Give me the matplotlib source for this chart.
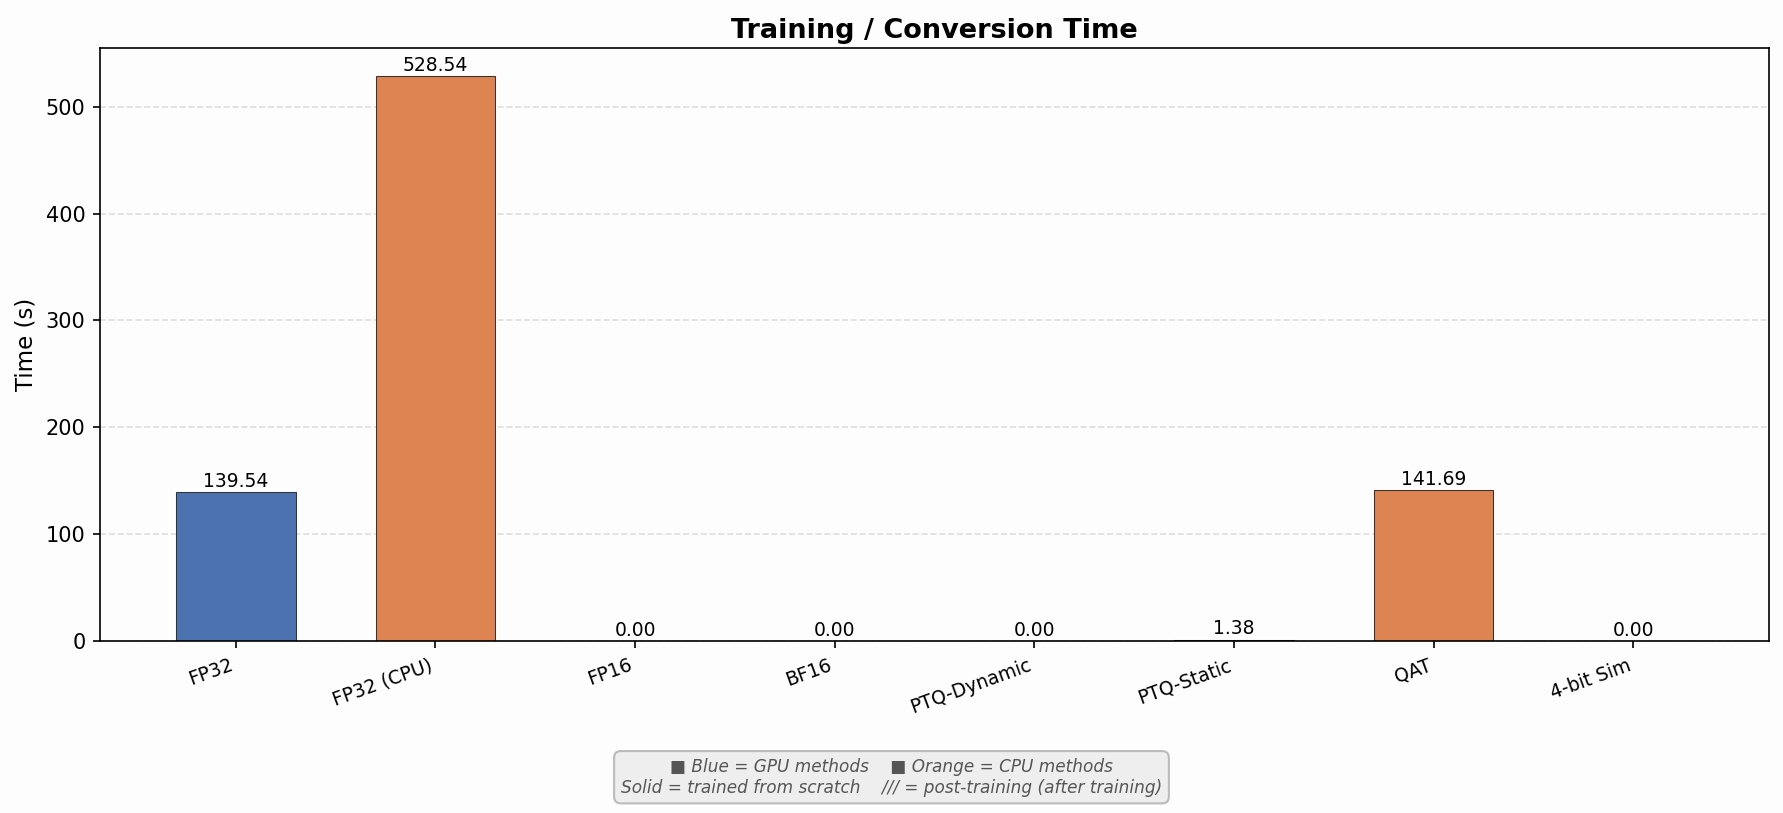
import numpy as np
import matplotlib
matplotlib.use("Agg")
import matplotlib.pyplot as plt

methods = ["FP32", "FP32 (CPU)", "FP16", "BF16", "PTQ-Dynamic", "PTQ-Static", "QAT", "4-bit Sim"]
times = [139.54, 528.54, 0.00, 0.00, 0.00, 1.38, 141.69, 0.00]
device = ["gpu", "cpu", "gpu", "gpu", "cpu", "cpu", "cpu", "gpu"]
post_training = [False, False, True, True, True, True, False, True]

colors = {"gpu": "#4C72B0", "cpu": "#DD8452"}

fig = plt.figure(figsize=(1783 / 150, 813 / 150), dpi=150)
fig.patch.set_facecolor("#FDFDFD")
ax = fig.add_axes([100 / 1783, 172 / 813, 1669 / 1783, 593 / 813])
ax.set_facecolor("#FDFDFD")

x = np.arange(len(methods))
bars = ax.bar(x, times, width=0.6,
              color=[colors[d] for d in device],
              edgecolor="#333333", linewidth=0.5)
for b, pt in zip(bars, post_training):
    if pt:
        b.set_hatch("///")

for b, v in zip(bars, times):
    ax.text(b.get_x() + b.get_width() / 2, b.get_height() + 1, f"{v:.2f}",
            ha="center", va="bottom", fontsize=9)

ax.set_title("Training / Conversion Time", fontsize=13, fontweight="bold", pad=5)
ax.set_ylabel("Time (s)", fontsize=11)
ax.set_xticks(x)
ax.set_xticklabels(methods, rotation=20, ha="right", fontsize=9)
ax.tick_params(axis="y", labelsize=10)
ax.yaxis.grid(True, linestyle="--", alpha=0.4)
ax.set_axisbelow(True)

fig.text(0.5, 0.044,
         "\u25A0 Blue = GPU methods    \u25A0 Orange = CPU methods\n"
         "Solid = trained from scratch    /// = post-training (after training)",
         ha="center", va="center", fontsize=8.1, style="italic", color="#555555",
         bbox=dict(boxstyle="round,pad=0.4", facecolor="#EEEEEE", edgecolor="#BBBBBB"))

fig.savefig("out.png", dpi=150, facecolor=fig.get_facecolor())
